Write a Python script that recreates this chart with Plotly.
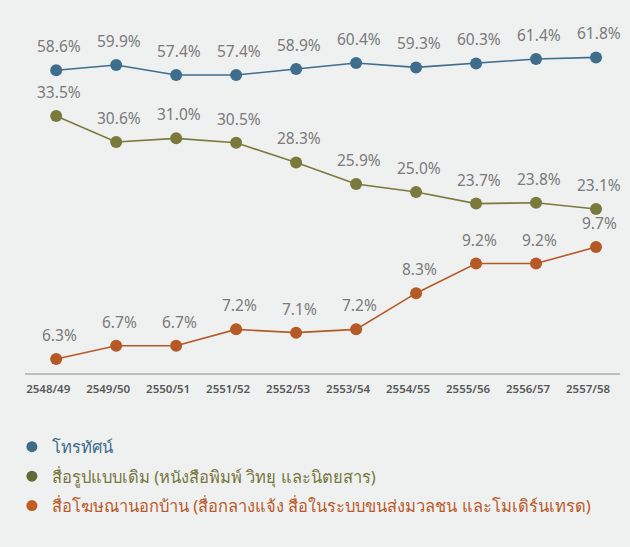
import plotly.graph_objects as go

years = ["2548/49", "2549/50", "2550/51", "2551/52", "2552/53",
         "2553/54", "2554/55", "2555/56", "2556/57", "2557/58"]
tv = [58.6, 59.9, 57.4, 57.4, 58.9, 60.4, 59.3, 60.3, 61.4, 61.8]
traditional = [33.5, 30.6, 31.0, 30.5, 28.3, 25.9, 25.0, 23.7, 23.8, 23.1]
outdoor = [6.3, 6.7, 6.7, 7.2, 7.1, 7.2, 8.3, 9.2, 9.2, 9.7]

names = ["โทรทัศน์",
         "สื่อรูปแบบเดิม (หนังสือพิมพ์ วิทยุ และนิตยสาร)",
         "สื่อโฆษณานอกบ้าน (สื่อกลางแจ้ง สื่อในระบบขนส่งมวลชน และโมเดิร์นเทรด)"]
line_colors = ["#3F6E8D", "#7A7A3C", "#B55A26"]
legend_dot = ["#3E6C8A", "#5F6A36", "#C25A24"]
legend_text = ["#3E6C8A", "#76773F", "#B9592A"]

series = [tv, traditional, outdoor]
axes = ["y", "y2", "y3"]
ranges = [[-17.1, 71.15], [4.75, 44.24], [5.874, 16.6]]

BG = "#EFF1F0"
fig = go.Figure()

for s, ax, c in zip(series, axes, line_colors):
    fig.add_trace(go.Scatter(
        x=years, y=s, yaxis=ax, mode="lines+markers",
        line=dict(color=c, width=1.6),
        marker=dict(color=c, size=12, line=dict(width=0)),
        showlegend=False, hoverinfo="skip"))
    for xv, yv in zip(years, s):
        fig.add_annotation(
            x=xv, y=yv, xref="x", yref=ax, text=f"{yv:.1f}%",
            showarrow=False, yshift=24, xshift=3,
            font=dict(family="Noto Sans", size=15.5, color="#7A7A7A"))

for i, n in enumerate(names):
    fig.add_trace(go.Scatter(
        x=[None], y=[None], mode="markers",
        name=f'<span style="color:{legend_text[i]}">{n}</span>',
        marker=dict(color=legend_dot[i], size=11),
        legendgroup=f"g{i}", hoverinfo="skip"))

fig.update_layout(
    width=630, height=547,
    paper_bgcolor=BG, plot_bgcolor=BG,
    margin=dict(l=25, r=10, t=20, b=174),
    xaxis=dict(type="category", range=[-0.52, 9.4], showgrid=False,
               showline=True, linecolor="#BDBFBE", linewidth=2,
               ticks="outside", ticklen=4, tickcolor="rgba(0,0,0,0)",
               ticklabelshift=-8, zeroline=False,
               tickfont=dict(family="Noto Sans", size=11.5, color="#585858",
                             weight=600)),
    yaxis=dict(range=ranges[0], visible=False, fixedrange=True),
    yaxis2=dict(range=ranges[1], visible=False, overlaying="y"),
    yaxis3=dict(range=ranges[2], visible=False, overlaying="y"),
    legend=dict(x=-0.022, y=-0.16, xanchor="left", yanchor="top",
                traceorder="grouped", tracegroupgap=5,
                bgcolor="rgba(0,0,0,0)",
                font=dict(family="Noto Sans", size=16.5), itemwidth=30),
    showlegend=True,
)

fig.write_html("out.html", config={"displayModeBar": False},
               post_script="document.body.style.margin='0';")
